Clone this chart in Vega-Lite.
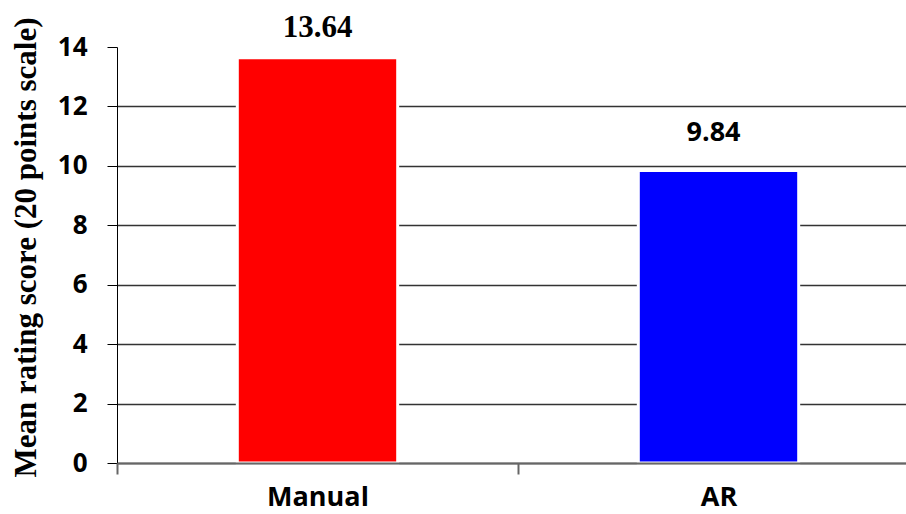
{
  "$schema": "https://vega.github.io/schema/vega-lite/v6.json",
  "width": 789,
  "height": 416,
  "autosize": "none",
  "padding": {"left": 117, "top": 47, "right": 0, "bottom": 51},
  "background": "white",
  "config": {"view": {"stroke": null}},
  "data": {
    "values": [
      {"method": "Manual", "score": 13.64},
      {"method": "AR", "score": 9.84}
    ]
  },
  "encoding": {
    "x": {
      "field": "method",
      "type": "nominal",
      "sort": ["Manual", "AR"],
      "scale": {"range": [0, 802], "paddingInner": 0, "paddingOuter": 0},
      "axis": {
        "title": null,
        "labelAngle": 0,
        "labelFont": "Open Sans",
        "labelFontSize": 27,
        "labelFontWeight": "bold",
        "labelColor": "black",
        "labelBaseline": "alphabetic",
        "labelPadding": 31,
        "tickBand": "extent",
        "tickSize": 11,
        "tickWidth": 2,
        "tickColor": "#666666",
        "domainColor": "#666666",
        "domainWidth": 2,
        "zindex": 1
      }
    },
    "y": {
      "field": "score",
      "type": "quantitative",
      "scale": {"domain": [0, 14], "nice": false},
      "axis": {
        "values": [0, 2, 4, 6, 8, 10, 12, 14],
        "title": "Mean rating score (20 points scale)",
        "titleFont": "Liberation Serif",
        "titleFontSize": 31,
        "titleFontWeight": "bold",
        "titleColor": "black",
        "titleAngle": -90,
        "titleAlign": "center",
        "titleBaseline": "alphabetic",
        "titleX": -82,
        "titleY": 200,
        "labelFont": "Open Sans",
        "labelFontSize": 26,
        "labelFontWeight": "bold",
        "labelColor": "black",
        "labelPadding": 20,
        "tickSize": 10,
        "tickColor": "black",
        "domainColor": "black",
        "grid": true,
        "gridColor": "#333333",
        "gridWidth": 1.3,
        "gridOpacity": {"condition": {"test": "datum.value == 14", "value": 0}, "value": 1}
      }
    }
  },
  "layer": [
    {
      "mark": {"type": "bar", "width": {"band": 0.4}, "stroke": "white", "strokeWidth": 3},
      "encoding": {
        "color": {
          "field": "method",
          "type": "nominal",
          "scale": {"domain": ["Manual", "AR"], "range": ["#FF0000", "#0000FF"]},
          "legend": null
        }
      }
    },
    {
      "transform": [{"filter": "datum.method === 'Manual'"}],
      "mark": {"type": "text", "font": "Liberation Serif", "fontWeight": "bold", "fontSize": 31, "baseline": "alphabetic", "dy": -21, "color": "black"},
      "encoding": {"text": {"field": "score", "type": "quantitative", "format": ".2f"}}
    },
    {
      "transform": [{"filter": "datum.method === 'AR'"}],
      "mark": {"type": "text", "font": "Open Sans", "fontWeight": "bold", "fontSize": 27, "baseline": "alphabetic", "dy": -30, "dx": -5, "color": "black"},
      "encoding": {"text": {"field": "score", "type": "quantitative", "format": ".2f"}}
    }
  ]
}
